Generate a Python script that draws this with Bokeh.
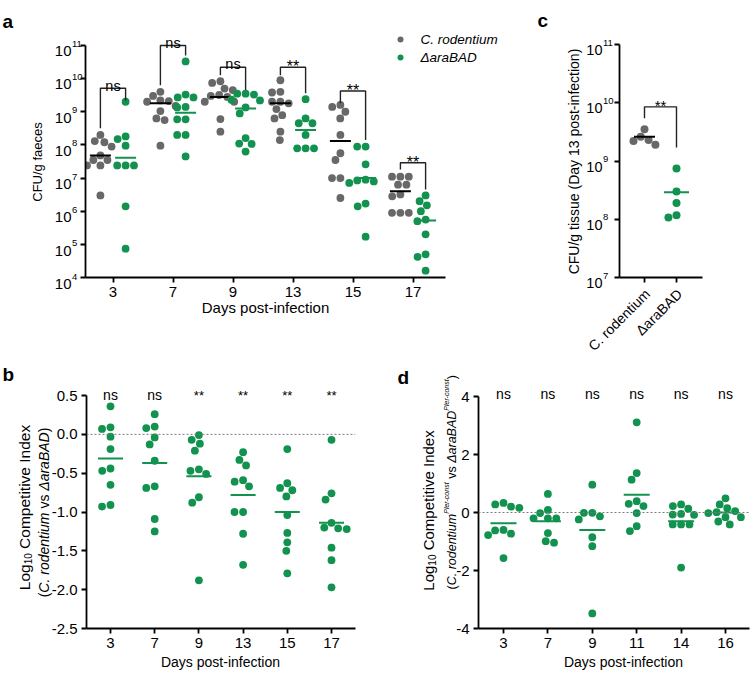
import math
from bokeh.plotting import figure
from bokeh.layouts import column, row
from bokeh.models import (Label, Span, FixedTicker, Range1d, PrintfTickFormatter,
                          CustomJSTickFormatter, GridBox)
from bokeh.embed import file_html
from bokeh.resources import INLINE

FONT = "Liberation Sans"
GRAY = "#686868"
GREEN = "#12924f"
INK = "#222222"
DELTA = "\u0394"

# ---------------- data (panel a: CFU/g faeces) ----------------
a_days = ["3", "7", "9", "13", "15", "17"]
a_rodentium = [
    [2.0e8, 1.2e8, 8.9e7, 1.3e8, 3.5e7, 3.5e7, 4.8e7, 2.4e7, 2.4e7, 3.0e6],
    [4.0e9, 3.0e9, 2.2e9, 2.1e9, 2.0e9, 1.5e9, 1.05e9, 6.3e8, 5.6e8, 9.5e7],
    [8.3e9, 7.4e9, 5.0e9, 4.5e9, 3.2e9, 3.0e9, 2.8e9, 2.0e9, 2.0e9, 6.0e8, 2.5e8],
    [8.9e9, 4.0e9, 3.8e9, 2.0e9, 2.0e9, 1.8e9, 7.9e8, 1.2e9, 6.3e8, 2.5e8, 1.4e8],
    [1.6e9, 1.4e9, 1.0e9, 6.3e8, 2.0e8, 5.6e7, 3.5e7, 1.0e7, 1.0e7, 2.5e6],
    [1.1e7, 1.1e7, 1.1e7, 6.3e6, 6.3e6, 2.8e6, 3.2e6, 8.9e5, 8.9e5, 8.9e5],
]
a_arabad = [
    [2.0e9, 1.8e8, 1.5e8, 9.5e7, 2.4e7, 2.4e7, 2.4e7, 1.4e6, 7.4e4],
    [3.3e10, 3.3e9, 2.7e9, 2.7e9, 1.4e9, 1.35e9, 5.9e8, 5.9e8, 2.0e8, 2.0e8, 4.5e7],
    [3.5e9, 3.5e9, 3.3e9, 2.3e9, 2.2e9, 1.35e9, 8.9e8, 1.6e8, 1.1e8, 1.07e8, 6.3e7],
    [2.4e9, 6.3e8, 4.5e8, 4.5e8, 2.0e8, 7.9e7, 7.9e7, 7.9e7],
    [8.9e7, 8.9e7, 2.6e7, 8.9e6, 8.5e6, 7.9e6, 7.1e6, 1.7e6, 1.4e6, 1.7e5],
    [3.0e6, 2.0e6, 1.5e6, 1.0e6, 5.6e5, 5.0e5, 2.0e5, 5.0e4, 4.2e4, 1.6e4],
]
a_rodentium_median = [4.8e7, 1.8e9, 2.8e9, 1.8e9, 1.3e8, 4.0e6]
a_arabad_median = [4.1e7, 9.3e8, 1.26e9, 2.8e8, 1.0e7, 5.2e5]
a_sig = ["ns", "ns", "ns", "**", "**", "**"]
a_bracket_top = [5.1e9, 1.0e11, 2.2e10, 2.2e10, 4.2e9, 2.9e7]
a_bracket_left = [3.2e8, 6.3e9, 1.26e10, 1.26e10, 1.8e9, 1.8e7]
a_bracket_right = [2.2e9, 5.0e10, 4.5e9, 3.6e9, 1.4e8, 4.5e6]

# ---------------- data (panel c: CFU/g tissue day 13) ----------------
c_groups = ["C. rodentium", DELTA + "araBAD"]
c_rodentium = [3.5e9, 2.6e9, 2.3e9, 2.2e9, 1.9e9]
c_arabad = [7.4e8, 3.0e8, 1.9e8, 1.17e8, 1.07e8]
c_medians = [2.6e9, 2.9e8]
c_sig = "**"
c_bracket = [5.4e9, 8.5e9, 1.7e9]   # left end, top, right end

# ---------------- data (panel b: log10 CI) ----------------
b_days = ["3", "7", "9", "13", "15", "17"]
b_values = [
    [0.36, 0.09, 0.07, -0.03, -0.19, -0.44, -0.47, -0.65, -0.93, -0.91],
    [0.26, 0.10, 0.08, -0.04, -0.13, -0.34, -0.69, -0.67, -1.09, -1.25],
    [-0.01, -0.12, -0.07, -0.21, -0.45, -0.47, -0.51, -0.81, -0.88, -1.88],
    [-0.23, -0.33, -0.40, -0.59, -0.61, -0.67, -1.00, -1.00, -1.28, -1.68],
    [-0.19, -0.63, -0.69, -0.72, -0.80, -1.04, -1.27, -1.39, -1.50, -1.79],
    [-0.07, -0.76, -0.84, -1.14, -1.21, -1.20, -1.22, -1.46, -1.62, -1.97],
]
b_medians = [-0.31, -0.37, -0.54, -0.78, -1.00, -1.14]
b_sig = ["ns", "ns", "**", "**", "**", "**"]

# ---------------- data (panel d: log10 CI, Pler-const) ----------------
d_days = ["3", "7", "9", "11", "14", "16"]
d_values = [
    [0.28, 0.33, 0.16, 0.20, -0.60, -0.73, -0.62, -0.78, -1.57],
    [0.64, -0.02, 0.09, -0.20, -0.20, -0.20, -0.71, -1.04, -0.99],
    [0.96, -0.01, -0.01, -0.13, -0.24, -0.85, -1.16, -3.48],
    [3.11, 1.36, 1.13, 0.39, 0.30, 0.22, -0.02, -0.64, -0.47],
    [0.22, 0.13, 0.28, -0.08, -0.05, -0.07, -0.41, -0.41, -0.41, -1.90],
    [0.49, 0.15, 0.28, -0.16, 0.01, -0.02, -0.16, -0.41, -0.31, 0.05],
]
d_medians = [-0.37, -0.30, -0.60, 0.61, -0.30, 0.0]
d_sig = ["ns", "ns", "ns", "ns", "ns", "ns"]

# ---------------- helpers ----------------
W = {" ": 278, "(": 333, ")": 333, "-": 333, ".": 278, "/": 278,
     "A": 667, "B": 667, "C": 722, "D": 722, "F": 611, "I": 278, "L": 556, "P": 667, "U": 722,
     "a": 556, "b": 556, "c": 500, "d": 556, "e": 556, "f": 278, "g": 556, "h": 556, "i": 222,
     "l": 222, "m": 833, "n": 556, "o": 556, "p": 556, "r": 333, "s": 500, "t": 278, "u": 556,
     "v": 500, "x": 500, "y": 500, DELTA: 668}


def tw(t, size):
    return sum(W.get(ch, 556) for ch in t) * size / 1000.0


class Geo:
    """frame geometry in canvas pixels + data ranges"""
    def __init__(s, L, R, T, B, x0, x1, y0, y1, ylog=False):
        s.L, s.R, s.T, s.B = L, R, T, B
        s.x0, s.x1, s.y0, s.y1, s.ylog = x0, x1, y0, y1, ylog
        s.sx = (R - L) / (x1 - x0)

    def _f(s, v):
        return math.log10(v) if s.ylog else v

    def py(s, v):
        a, b = s._f(s.y0), s._f(s.y1)
        return s.B - (s._f(v) - a) / (b - a) * (s.B - s.T)

    def px(s, x):
        return s.L + (x - s.x0) * s.sx


def swarm(pys, d):
    n = len(pys)
    order = sorted(range(n), key=lambda k: pys[k])
    xs = [0.0] * n
    placed = []
    for k in order:
        y = pys[k]
        cands = [0.0]
        for qx, qy in placed:
            dy = abs(qy - y)
            if dy < d:
                dx = math.sqrt(d * d - dy * dy)
                cands += [qx - dx, qx + dx]
        cands.sort(key=lambda c: (round(abs(c), 6), c))
        for c in cands:
            if all((c - qx) ** 2 + (y - qy) ** 2 >= d * d - 1e-6 for qx, qy in placed):
                xs[k] = c
                break
        placed.append((xs[k], y))
    return xs


def make_fig(fx, fy, fw, fh, g):
    p = figure(width=fw, height=fh, x_range=Range1d(g.x0, g.x1), y_range=Range1d(g.y0, g.y1),
               y_axis_type="log" if g.ylog else "linear", output_backend="svg",
               toolbar_location=None,
               min_border_left=int(round(g.L - fx)), min_border_right=int(round(fx + fw - g.R)),
               min_border_top=int(round(g.T - fy)), min_border_bottom=int(round(fy + fh - g.B)))
    p.outline_line_color = None
    p.background_fill_color = "white"
    p.border_fill_color = "white"
    p.xgrid.visible = False
    p.ygrid.visible = False
    for ax in (p.xaxis[0], p.yaxis[0]):
        ax.axis_line_width = 1.8
        ax.axis_line_color = "black"
        ax.major_tick_line_width = 1.8
        ax.major_tick_line_color = "black"
        ax.major_tick_in = 0
        ax.major_tick_out = 5
        ax.minor_tick_line_color = None
        ax.major_label_text_font = FONT
        ax.major_label_text_font_size = "15px"
        ax.major_label_text_color = "black"
        ax.major_label_standoff = 4
    return p


def cat_ticks(p, labels):
    p.xaxis.ticker = FixedTicker(ticks=list(range(len(labels))))
    p.xaxis.major_label_overrides = {i: l for i, l in enumerate(labels)}


def blank(ax):
    ax.formatter = CustomJSTickFormatter(code="return '';")


# ---------------- overlay (all free texts, in canvas pixels) ----------------
TOT_W, TOT_H = 750, 672
ov = figure(width=TOT_W, height=TOT_H, x_range=Range1d(0, TOT_W), y_range=Range1d(TOT_H, 0),
            output_backend="svg", toolbar_location=None, x_axis_location=None,
            y_axis_location=None, min_border=0)
ov.outline_line_color = None
ov.background_fill_color = None
ov.border_fill_color = None
ov.grid.visible = False


def lab(text, px, py, size, align="left", baseline="alphabetic", style="normal", angle=0.0):
    ov.add_layout(Label(x=px, y=py, text=text, angle=angle, text_font=FONT,
                        text_font_size=f"{size}px", text_font_style=style, text_align=align,
                        text_baseline=baseline, text_color="black"))


def rich(segs, px, py, center=True):
    """vertical (reading upward) text made of styled segments; px = baseline x"""
    total = sum(tw(t, s) for t, s, _, _ in segs)
    cum = -total / 2.0 if center else 0.0
    for t, s, st, sh in segs:
        lead = tw(t[:len(t) - len(t.lstrip(" "))], s)
        txt = t.strip(" ")
        if txt:
            lab(txt, px - sh, py - (cum + lead), s, style=st, angle=math.pi / 2)
        cum += tw(t, s)


# ================= panel a =================
dec_a = (278 - 45) / 7.0
GA = Geo(85, 445, 28, 278, -27.5 / 60, -27.5 / 60 + 6, 1e4, 10 ** (11 + 17 / dec_a), True)
pa = make_fig(0, 0, 530, 353, GA)
pa.yaxis.ticker = FixedTicker(ticks=[10.0 ** e for e in range(4, 12)])
pa.yaxis.bounds = (1e4, 1e11)
blank(pa.yaxis[0])
cat_ticks(pa, a_days)

OFF_A = 0.21
for vals_list, meds, off, col, mcol in ((a_rodentium, a_rodentium_median, -OFF_A, GRAY, "black"),
                                         (a_arabad, a_arabad_median, OFF_A, GREEN, GREEN)):
    xs, ys = [], []
    for i, vals in enumerate(vals_list):
        dxs = swarm([GA.py(v) for v in vals], 8.4)
        xs += [i + off + dx / GA.sx for dx in dxs]
        ys += vals
    pa.scatter(xs, ys, size=7.8, color=col, line_color=None)
    hw = 10.5 / GA.sx
    pa.segment(x0=[i + off - hw for i in range(6)], x1=[i + off + hw for i in range(6)],
               y0=meds, y1=meds, line_color=mcol, line_width=2)

bx, by = [], []
for i in range(6):
    bx.append([i - OFF_A, i - OFF_A, i + OFF_A, i + OFF_A])
    by.append([a_bracket_left[i], a_bracket_top[i], a_bracket_top[i], a_bracket_right[i]])
pa.multi_line(bx, by, line_color=INK, line_width=1.4)
for i, s in enumerate(a_sig):
    ty = GA.py(a_bracket_top[i])
    if s == "ns":
        lab(s, GA.px(i), ty - 3, 14.5, align="center")
    else:
        lab(s, GA.px(i), ty - 1, 16, align="center")

for e in range(4, 12):
    ty = GA.py(10.0 ** e)
    lab("10", 71, ty + 5.5, 15, align="right")
    lab(str(e), 71.5, ty - 2, 9.5, align="left")

lab("CFU/g faeces", 37, 161.5, 13, align="center", baseline="middle", angle=math.pi / 2)
lab("Days post-infection", 265, 307, 15, align="center", baseline="middle")
lab("a", 2, 21, 19, style="bold")
# legend
ov.scatter([400, 400], [39, 57], size=6, color=[GRAY, GREEN], line_color=None)
lab("C. rodentium", 420, 39, 13.5, baseline="middle", style="italic")
lab(DELTA + "araBAD", 420, 57, 13.5, baseline="middle", style="italic")

# ================= panel c =================
dec_c = (277 - 44) / 4.0
GC = Geo(619, 702, 28, 277, -25 / 32, -25 / 32 + 83 / 32, 1e7, 10 ** (11 + 16 / dec_c), True)
pc = make_fig(530, 0, 220, 353, GC)
pc.yaxis.ticker = FixedTicker(ticks=[10.0 ** e for e in range(7, 12)])
pc.yaxis.bounds = (1e7, 1e11)
blank(pc.yaxis[0])
pc.xaxis.ticker = FixedTicker(ticks=[0, 1])
blank(pc.xaxis[0])
for i, (vals, col, mcol, hw) in enumerate(((c_rodentium, GRAY, "black", 10.5),
                                            (c_arabad, GREEN, GREEN, 12.5))):
    dxs = swarm([GC.py(v) for v in vals], 8.4)
    pc.scatter([i + dx / GC.sx for dx in dxs], vals, size=8, color=col, line_color=None)
    pc.segment(x0=[i - hw / GC.sx], x1=[i + hw / GC.sx], y0=[c_medians[i]], y1=[c_medians[i]],
               line_color=mcol, line_width=2)
pc.multi_line([[0, 0, 1, 1]], [[c_bracket[0], c_bracket[1], c_bracket[1], c_bracket[2]]],
              line_color=INK, line_width=1.4)
lab(c_sig, GC.px(0.5), GC.py(c_bracket[1]) - 1, 15, align="center")
for e in range(7, 12):
    ty = GC.py(10.0 ** e)
    lab("10", 602, ty + 5.5, 14.5, align="right")
    lab(str(e), 602.5, ty - 2, 9.5, align="left")
for i, name in enumerate(c_groups):
    lab(name, GC.px(i) + 3, 291, 14, align="right", baseline="middle", angle=math.pi / 4)
lab("CFU/g tissue (Day 13 post-infection)", 573, 161, 14, align="center",
    baseline="middle", angle=math.pi / 2)
lab("c", 537, 20, 19, style="bold")

# ================= panel b =================
ppu_b = (628 - 395) / 3.0
GB = Geo(86, 355, 365, 628, -24 / 44.2, -24 / 44.2 + 269 / 44.2, -2.5, 0.5 + 30 / ppu_b)
pb = make_fig(0, 353, 380, 319, GB)
pb.yaxis.ticker = FixedTicker(ticks=[-2.5, -2.0, -1.5, -1.0, -0.5, 0.0, 0.5])
pb.yaxis.formatter = PrintfTickFormatter(format="%.1f")
pb.yaxis.bounds = (-2.5, 0.5)
cat_ticks(pb, b_days)
pb.add_layout(Span(location=0, dimension="width", line_color="#7a7a7a", line_dash="2 2", line_width=1))
xs, ys = [], []
for i, vals in enumerate(b_values):
    dxs = swarm([GB.py(v) for v in vals], 8.6)
    xs += [i + dx / GB.sx for dx in dxs]
    ys += vals
pb.scatter(xs, ys, size=7.8, color=GREEN, line_color=None)
hw = 12.5 / GB.sx
pb.segment(x0=[i - hw for i in range(6)], x1=[i + hw for i in range(6)], y0=b_medians, y1=b_medians,
           line_color=GREEN, line_width=2)
for i, s in enumerate(b_sig):
    if s == "ns":
        lab(s, GB.px(i), 394, 14, align="center")
    else:
        lab(s, GB.px(i), 395, 13, align="center")
rich([("Log", 15.5, "normal", 0), ("10", 10, "normal", -3.5),
      (" Competitive Index", 15.5, "normal", 0)], 24, 507)
rich([("(", 14, "normal", 0), ("C. rodentium", 14, "italic", 0), (" vs ", 14, "normal", 0),
      (DELTA + "araBAD", 14, "italic", 0), (")", 14, "normal", 0)], 43, 512)
lab("Days post-infection", 220, 661, 14, align="center", baseline="middle")
lab("b", 2, 374, 19, style="bold")

# ================= panel d =================
ppu_d = (628 - 396) / 8.0
GD = Geo(478, 749, 365, 628, -25 / 44.4, -25 / 44.4 + 271 / 44.4, -4.0, 4 + 31 / ppu_d)
pd_ = make_fig(380, 353, 370, 319, GD)
pd_.yaxis.ticker = FixedTicker(ticks=[-4, -2, 0, 2, 4])
pd_.yaxis.formatter = PrintfTickFormatter(format="%d")
pd_.yaxis.bounds = (-4, 4)
cat_ticks(pd_, d_days)
pd_.add_layout(Span(location=0, dimension="width", line_color="#7a7a7a", line_dash="2 2", line_width=1))
xs, ys = [], []
for i, vals in enumerate(d_values):
    dxs = swarm([GD.py(v) for v in vals], 8.4)
    xs += [i + dx / GD.sx for dx in dxs]
    ys += vals
pd_.scatter(xs, ys, size=7.8, color=GREEN, line_color=None)
hw = 13 / GD.sx
pd_.segment(x0=[i - hw for i in range(6)], x1=[i + hw for i in range(6)], y0=d_medians, y1=d_medians,
            line_color=GREEN, line_width=2)
for i, s in enumerate(d_sig):
    lab(s, GD.px(i), 393, 14, align="center")
rich([("Log", 15, "normal", 0), ("10", 10, "normal", -3.5),
      (" Competitive Index", 15, "normal", 0)], 428, 510)
rich([("(", 12.5, "normal", 0), ("C. rodentium", 12.5, "italic", 0),
      ("Pler-const", 7, "italic", 5), (" vs ", 12.5, "normal", 0),
      (DELTA + "araBAD", 12.5, "italic", 0), ("Pler-const", 7, "italic", 5),
      (")", 12.5, "normal", 0)], 451, 589, center=False)
lab("Days post-infection", 623, 661, 14, align="center", baseline="middle")
lab("d", 397, 377, 19, style="bold")

main = column(row(pa, pc), row(pb, pd_))
page = GridBox(children=[(main, 0, 0), (ov, 0, 0)])
open("out.html", "w").write(file_html(page, INLINE))
